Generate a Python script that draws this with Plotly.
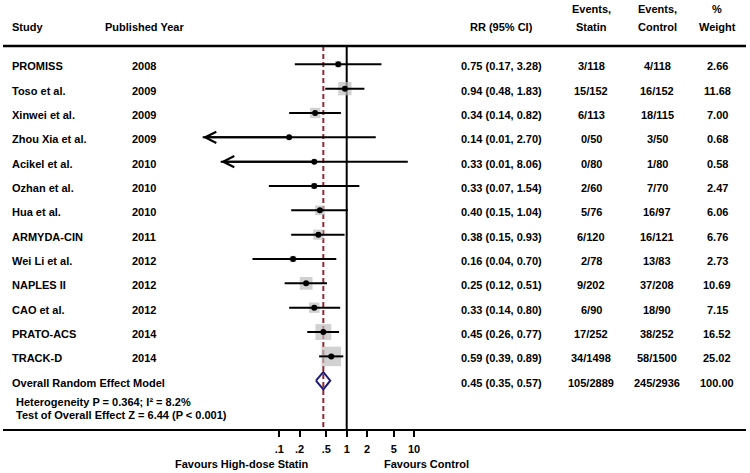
import numpy as np
import plotly.graph_objects as go

# ---------------- data ----------------
studies = ["PROMISS", "Toso et al.", "Xinwei et al.", "Zhou Xia et al.", "Acikel et al.",
           "Ozhan et al.", "Hua et al.", "ARMYDA-CIN", "Wei Li et al.", "NAPLES II",
           "CAO et al.", "PRATO-ACS", "TRACK-D"]
years = [2008, 2009, 2009, 2009, 2010, 2010, 2010, 2011, 2012, 2012, 2012, 2014, 2014]
rr = [0.75, 0.94, 0.34, 0.14, 0.33, 0.33, 0.40, 0.38, 0.16, 0.25, 0.33, 0.45, 0.59]
rr_lower = [0.17, 0.48, 0.14, 0.0073, 0.0135, 0.07, 0.15, 0.15, 0.04, 0.12, 0.14, 0.26, 0.39]
rr_upper = [3.28, 1.83, 0.82, 2.70, 8.06, 1.54, 1.04, 0.93, 0.70, 0.51, 0.80, 0.77, 0.89]
events_statin = ["3/118", "15/152", "6/113", "0/50", "0/80", "2/60", "5/76", "6/120",
                 "2/78", "9/202", "6/90", "17/252", "34/1498"]
events_control = ["4/118", "16/152", "18/115", "3/50", "1/80", "7/70", "16/97", "16/121",
                  "13/83", "37/208", "18/90", "38/252", "58/1500"]
weights = [2.66, 11.68, 7.00, 0.68, 0.58, 2.47, 6.06, 6.76, 2.73, 10.69, 7.15, 16.52, 25.02]

overall_label = "Overall Random Effect Model"
overall_rr = 0.45
overall_lower = 0.35
overall_upper = 0.57
overall_statin = "105/2889"
overall_control = "245/2936"
overall_weight = 100.00
heterogeneity_text = "Heterogeneity P = 0.364; I\u00b2 = 8.2%"
effect_test_text = "Test of Overall Effect Z = 6.44 (P < 0.001)"

tick_values = [0.1, 0.2, 0.5, 1, 2, 5, 10]
tick_labels = [".1", ".2", ".5", "1", "2", "5", "10"]
favours_left = "Favours High-dose Statin"
favours_right = "Favours Control"
arrow_below = 0.02  # CIs reaching below this get an arrow

# ---------------- layout constants ----------------
W, H = 750, 473
X_ONE = 346.7      # pixel of RR = 1
PX_DEC = 67.4      # pixels per decade
ROW0 = 64.3        # pixel of first study row
ROWH = 24.34       # row pitch
TEXT_DY = 2.0      # row text sits slightly below the marker line
FONT = "Liberation Sans, Arial, sans-serif"
DASH_COL = "#8E2A35"
SQ_COL = "#BEBEBE"
DIA_COL = "#1C1C78"


def yrow(p):
    return (p - ROW0) / ROWH


def xp(p):
    return p / W


n = len(studies)
rows = list(range(n))
overall_row = n
top_line, bottom_line = 46, 430
tdy = TEXT_DY / ROWH

fig = go.Figure()

# null line and overall-effect dashed line
fig.add_trace(go.Scatter(x=[1, 1], y=[yrow(top_line), yrow(bottom_line)], mode="lines",
                         line=dict(color="black", width=2), hoverinfo="skip"))
fig.add_trace(go.Scatter(x=[overall_rr, overall_rr], y=[yrow(top_line), yrow(bottom_line)],
                         mode="lines", line=dict(color=DASH_COL, width=2, dash="5px,3px"),
                         hoverinfo="skip"))

# weight squares
fig.add_trace(go.Scatter(x=rr, y=rows, mode="markers",
                         marker=dict(symbol="square", color=SQ_COL,
                                     size=[3.9 * np.sqrt(w) for w in weights],
                                     line=dict(width=0)),
                         hoverinfo="skip"))

# CI lines
cx, cy = [], []
for i in rows:
    cx += [rr_lower[i], rr_upper[i], None]
    cy += [i, i, None]
fig.add_trace(go.Scatter(x=cx, y=cy, mode="lines", line=dict(color="black", width=2),
                         hoverinfo="skip"))

# point estimates
fig.add_trace(go.Scatter(x=rr, y=rows, mode="markers",
                         marker=dict(symbol="circle", color="black", size=6),
                         hoverinfo="skip"))

# overall diamond
dh = 0.36
fig.add_trace(go.Scatter(x=[overall_lower, overall_rr, overall_upper, overall_rr, overall_lower],
                         y=[overall_row, overall_row - dh, overall_row, overall_row + dh, overall_row],
                         mode="lines", line=dict(color=DIA_COL, width=2), hoverinfo="skip"))

annotations = []
base_font = dict(family=FONT, size=11, color="black", weight="bold")


def txt(text, x, y, anchor="left"):
    annotations.append(dict(text=text, x=xp(x), y=y, xref="paper", yref="y",
                            xanchor=anchor, yanchor="middle", showarrow=False,
                            font=base_font))


# arrows for truncated CIs
for i in rows:
    if rr_lower[i] < arrow_below:
        annotations.append(dict(x=np.log10(rr_lower[i]), y=i, xref="x", yref="y",
                                ax=np.log10(rr[i]), ay=i, axref="x", ayref="y",
                                text="", showarrow=True, arrowhead=5, arrowsize=1.1,
                                arrowwidth=2, arrowcolor="black", standoff=0))

# headers
h1, h2 = yrow(9), yrow(27)
txt("Study", 10, h2)
txt("Published Year", 103, h2)
txt("RR (95% CI)", 501, h2, "center")
txt("Events,", 591, h1, "center")
txt("Statin", 591, h2, "center")
txt("Events,", 657, h1, "center")
txt("Control", 657, h2, "center")
txt("%", 717, h1, "center")
txt("Weight", 717, h2, "center")

# study rows
for i in rows:
    ty = i + tdy
    txt(studies[i], 10, ty)
    txt(str(years[i]), 130, ty)
    txt(f"{rr[i]:.2f} ({rr_lower[i]:.2f}, {rr_upper[i]:.2f})", 501, ty, "center")
    txt(events_statin[i], 591, ty, "center")
    txt(events_control[i], 657, ty, "center")
    txt(f"{weights[i]:.2f}", 717, ty, "center")

# overall row
ty = overall_row + tdy
txt(overall_label, 10, ty)
txt(f"{overall_rr:.2f} ({overall_lower:.2f}, {overall_upper:.2f})", 501, ty, "center")
txt(overall_statin, 591, ty, "center")
txt(overall_control, 657, ty, "center")
txt(f"{overall_weight:.2f}", 717, ty, "center")
txt(heterogeneity_text, 14, yrow(402))
txt(effect_test_text, 14, yrow(415))

# favours labels
txt(favours_left, 311, yrow(464), "right")
txt(favours_right, 382, yrow(464), "left")

fig.update_layout(
    annotations=annotations,
    shapes=[
        dict(type="line", xref="paper", yref="y", x0=xp(3), x1=xp(746),
             y0=yrow(top_line), y1=yrow(top_line), line=dict(color="black", width=2.5)),
        dict(type="line", xref="paper", yref="y", x0=xp(3), x1=xp(746),
             y0=yrow(bottom_line), y1=yrow(bottom_line), line=dict(color="black", width=2)),
    ],
    width=W, height=H, autosize=False,
    margin=dict(l=0, r=0, t=0, b=0, pad=0),
    paper_bgcolor="white", plot_bgcolor="white",
    showlegend=False,
    font=dict(family=FONT, size=11, color="black"),
    xaxis=dict(type="log", range=[-X_ONE / PX_DEC, (W - X_ONE) / PX_DEC],
               domain=[0, 1], anchor="free", position=1 - bottom_line / H,
               tickvals=tick_values, ticktext=tick_labels,
               ticks="outside", ticklen=6, tickwidth=2, tickcolor="black",
               tickfont=dict(family=FONT, size=11, color="black", weight="bold"),
               ticklabelstandoff=3,
               showgrid=False, zeroline=False, showline=False, fixedrange=True),
    yaxis=dict(range=[(H - ROW0) / ROWH, -ROW0 / ROWH], domain=[0, 1],
               showgrid=False, zeroline=False, showline=False, showticklabels=False,
               ticks="", fixedrange=True),
)

fig.write_html("out.html", config={"displayModeBar": False},
               post_script="document.body.style.margin='0';document.body.style.overflow='hidden';")
